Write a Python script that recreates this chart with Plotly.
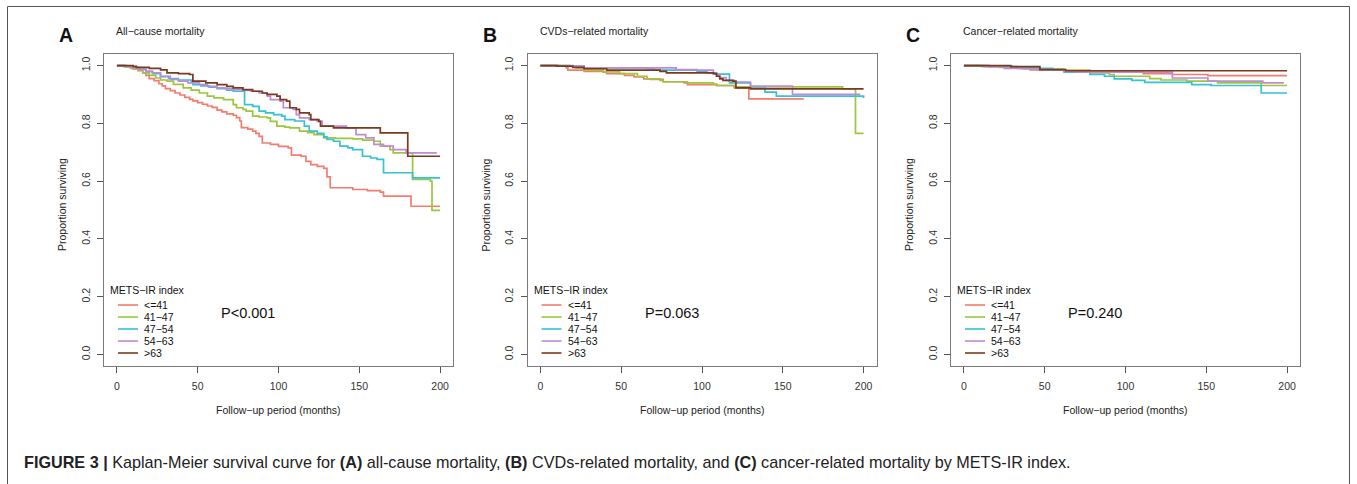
import plotly.graph_objects as go

W, H = 1357, 484

groups = ["<=41", "41-47", "47-54", "54-63", ">63"]
colors = ["#F47C6E", "#9DC63B", "#35C2D4", "#C08AD6", "#7A3A1C"]

# ---------------- Panel A: all-cause mortality ----------------
a_t_le41 = [0, 4, 8, 10, 13, 16, 18, 20, 23, 26, 28, 30, 33, 36, 39, 42, 45, 47, 50, 53, 56, 59, 62, 65, 68, 72, 74, 76, 77, 81, 84, 86, 88, 90, 95, 100, 106, 108, 114, 117, 120, 124, 128, 130, 132, 146, 155, 163, 165, 182, 200]
a_s_le41 = [1.0, 0.997, 0.993, 0.988, 0.982, 0.975, 0.966, 0.955, 0.948, 0.937, 0.93, 0.92, 0.913, 0.905, 0.898, 0.89, 0.883, 0.878, 0.872, 0.866, 0.86, 0.855, 0.846, 0.84, 0.833, 0.828, 0.82, 0.808, 0.785, 0.78, 0.773, 0.765, 0.755, 0.732, 0.727, 0.72, 0.715, 0.69, 0.686, 0.668, 0.657, 0.651, 0.644, 0.615, 0.577, 0.571, 0.567, 0.562, 0.548, 0.513, 0.513]
a_t_41_47 = [0, 5, 9, 13, 16, 20, 24, 27, 31, 35, 41, 46, 51, 56, 60, 66, 72, 74, 78, 80, 84, 88, 93, 95, 99, 104, 107, 113, 118, 122, 128, 135, 146, 152, 159, 163, 169, 171, 183, 194, 195, 200]
a_s_41_47 = [1.0, 0.995, 0.99, 0.986, 0.975, 0.966, 0.957, 0.95, 0.946, 0.935, 0.923, 0.915, 0.905, 0.894, 0.888, 0.882, 0.865, 0.854, 0.848, 0.842, 0.825, 0.822, 0.819, 0.807, 0.79, 0.787, 0.784, 0.773, 0.768, 0.761, 0.75, 0.748, 0.746, 0.742, 0.738, 0.721, 0.709, 0.698, 0.606, 0.6, 0.499, 0.499]
a_t_47_54 = [0, 5, 10, 14, 18, 22, 27, 32, 38, 46, 47, 52, 57, 62, 68, 72, 79, 84, 88, 92, 97, 102, 104, 110, 116, 119, 124, 128, 130, 134, 138, 143, 146, 152, 157, 161, 165, 183, 200]
a_s_47_54 = [1.0, 0.997, 0.993, 0.988, 0.98, 0.972, 0.962, 0.955, 0.95, 0.946, 0.934, 0.93, 0.925, 0.92, 0.915, 0.911, 0.865, 0.859, 0.842, 0.836, 0.83, 0.825, 0.813, 0.808, 0.79, 0.773, 0.765, 0.753, 0.744, 0.738, 0.721, 0.715, 0.709, 0.686, 0.68, 0.675, 0.629, 0.611, 0.611]
a_t_54_63 = [0, 6, 10, 14, 18, 22, 27, 33, 38, 44, 51, 56, 62, 67, 72, 78, 83, 88, 93, 95, 101, 103, 109, 111, 113, 119, 124, 127, 142, 148, 154, 159, 165, 171, 179, 198]
a_s_54_63 = [1.0, 0.997, 0.993, 0.986, 0.98, 0.975, 0.963, 0.952, 0.946, 0.94, 0.934, 0.928, 0.923, 0.92, 0.917, 0.914, 0.911, 0.905, 0.894, 0.882, 0.877, 0.854, 0.848, 0.83, 0.819, 0.813, 0.807, 0.79, 0.784, 0.761, 0.75, 0.727, 0.721, 0.709, 0.698, 0.698]
a_t_gt63 = [0, 10, 12, 20, 27, 31, 38, 45, 47, 55, 62, 68, 72, 78, 84, 90, 93, 99, 101, 105, 107, 111, 113, 119, 120, 125, 126, 134, 163, 180, 200]
a_s_gt63 = [1.0, 0.997, 0.994, 0.99, 0.985, 0.975, 0.972, 0.969, 0.946, 0.94, 0.934, 0.928, 0.923, 0.917, 0.911, 0.905, 0.9, 0.894, 0.882, 0.877, 0.854, 0.848, 0.836, 0.83, 0.813, 0.807, 0.79, 0.784, 0.767, 0.686, 0.686]

# ---------------- Panel B: CVDs-related mortality ----------------
b_t_le41 = [0, 11, 16, 17, 27, 39, 41, 52, 58, 64, 68, 76, 89, 91, 109, 120, 129, 163]
b_s_le41 = [1.0, 0.998, 0.992, 0.984, 0.98, 0.977, 0.972, 0.966, 0.961, 0.954, 0.952, 0.944, 0.94, 0.934, 0.931, 0.923, 0.885, 0.885]
b_t_41_47 = [0, 18, 22, 27, 39, 49, 60, 66, 74, 76, 91, 107, 109, 120, 187, 195, 200]
b_s_41_47 = [1.0, 0.998, 0.992, 0.984, 0.978, 0.972, 0.963, 0.954, 0.949, 0.944, 0.94, 0.936, 0.931, 0.926, 0.919, 0.765, 0.765]
b_t_47_54 = [0, 20, 27, 66, 70, 97, 103, 109, 117, 130, 139, 146, 200]
b_s_47_54 = [1.0, 0.998, 0.992, 0.989, 0.984, 0.98, 0.975, 0.97, 0.94, 0.926, 0.908, 0.894, 0.888]
b_t_54_63 = [0, 12, 27, 84, 97, 107, 109, 111, 115, 120, 130, 156, 198]
b_s_54_63 = [1.0, 0.998, 0.992, 0.986, 0.984, 0.972, 0.966, 0.958, 0.949, 0.943, 0.929, 0.9, 0.9]
b_t_gt63 = [0, 10, 20, 27, 41, 74, 78, 107, 109, 111, 113, 119, 121, 130, 200]
b_s_gt63 = [1.0, 0.998, 0.994, 0.989, 0.984, 0.98, 0.975, 0.972, 0.963, 0.954, 0.949, 0.946, 0.923, 0.919, 0.919]

# ---------------- Panel C: cancer-related mortality ----------------
c_t_le41 = [0, 16, 33, 41, 62, 99, 111, 129, 151, 200]
c_s_le41 = [1.0, 0.996, 0.99, 0.985, 0.98, 0.977, 0.972, 0.969, 0.965, 0.965]
c_t_41_47 = [0, 10, 22, 35, 45, 62, 78, 90, 93, 115, 122, 138, 157, 184, 200]
c_s_41_47 = [1.0, 0.997, 0.994, 0.99, 0.988, 0.984, 0.975, 0.969, 0.963, 0.955, 0.95, 0.946, 0.94, 0.931, 0.931]
c_t_47_54 = [0, 15, 30, 47, 55, 62, 78, 87, 93, 104, 112, 141, 153, 184, 200]
c_s_47_54 = [1.0, 0.997, 0.993, 0.99, 0.984, 0.977, 0.969, 0.963, 0.954, 0.949, 0.942, 0.934, 0.931, 0.905, 0.905]
c_t_54_63 = [0, 12, 25, 37, 45, 62, 70, 129, 151, 185, 198]
c_s_54_63 = [1.0, 0.996, 0.99, 0.988, 0.986, 0.98, 0.977, 0.957, 0.946, 0.94, 0.94]
c_t_gt63 = [0, 29, 47, 63, 200]
c_s_gt63 = [1.0, 0.996, 0.986, 0.982, 0.982]

panel_letters = ["A", "B", "C"]
panel_titles = ["All\u2212cause mortality", "CVDs\u2212related mortality", "Cancer\u2212related mortality"]
p_values = ["P<0.001", "P=0.063", "P=0.240"]
legend_title = "METS\u2212IR index"
legend_labels = ["<=41", "41\u221247", "47\u221254", "54\u221263", ">63"]
x_ticks = [0, 50, 100, 150, 200]
y_ticks = [0.0, 0.2, 0.4, 0.6, 0.8, 1.0]
y_ticktext = ["0.0", "0.2", "0.4", "0.6", "0.8", "1.0"]
x_title = "Follow\u2212up period (months)"
y_title = "Proportion surviving"
caption_bold = "FIGURE 3 |"
caption_rest = (" Kaplan-Meier survival curve for <b>(A)</b> all-cause mortality, <b>(B)</b> CVDs-related "
                "mortality, and <b>(C)</b> cancer-related mortality by METS-IR index.")

panels = [
    [(a_t_le41, a_s_le41), (a_t_41_47, a_s_41_47), (a_t_47_54, a_s_47_54), (a_t_54_63, a_s_54_63), (a_t_gt63, a_s_gt63)],
    [(b_t_le41, b_s_le41), (b_t_41_47, b_s_41_47), (b_t_47_54, b_s_47_54), (b_t_54_63, b_s_54_63), (b_t_gt63, b_s_gt63)],
    [(c_t_le41, c_s_le41), (c_t_41_47, c_s_41_47), (c_t_47_54, c_s_47_54), (c_t_54_63, c_s_54_63), (c_t_gt63, c_s_gt63)],
]

FONT = "Liberation Sans, Arial, sans-serif"


def px(x):
    return x / W


def py(y):
    return 1 - y / H


frame_left = [104, 527.5, 951]
frame_w = 349
frame_top, frame_bot = 54, 366

fig = go.Figure()
annotations = []
shapes = []


def note(x, y, text, size=10.5, color="#222", xanchor="left", angle=0):
    annotations.append(dict(x=px(x), y=py(y), xref="paper", yref="paper", text=text,
                            xanchor=xanchor, yanchor="middle", showarrow=False, textangle=angle,
                            font=dict(family=FONT, size=size, color=color)))


for i, series in enumerate(panels):
    ax = "" if i == 0 else str(i + 1)
    for g, (t, s) in enumerate(series):
        fig.add_trace(go.Scatter(
            x=t, y=s, mode="lines", line=dict(color=colors[g], width=1.7, shape="hv"),
            name=groups[g], showlegend=False, xaxis="x" + ax, yaxis="y" + ax, hoverinfo="skip"))
    L = frame_left[i]
    axis_common = dict(showline=True, mirror=True, linecolor="#7a7a7a", linewidth=1,
                       ticks="outside", ticklen=6, tickcolor="#555", tickwidth=1,
                       showgrid=False, zeroline=False,
                       tickfont=dict(family=FONT, size=10.5, color="#333"))
    fig.update_layout(**{
        "xaxis" + ax: dict(domain=[px(L), px(L + frame_w)], range=[-8, 208],
                           tickvals=x_ticks, anchor="y" + ax, ticklabelstandoff=4, **axis_common),
        "yaxis" + ax: dict(domain=[py(frame_bot), py(frame_top)], range=[-0.04, 1.04],
                           tickvals=y_ticks, ticktext=y_ticktext, tickangle=-90,
                           anchor="x" + ax, ticklabelstandoff=3, **axis_common),
    })
    note(L - 47, 35, "<b>%s</b>" % panel_letters[i], size=19.5, color="#111")
    note(L + 10, 31, panel_titles[i])
    note(L + frame_w / 2, 410, x_title, xanchor="center")
    note(L - 42, 205, y_title, xanchor="center", angle=-90)
    note(L + 4, 290, legend_title, color="#111")
    for g in range(5):
        yy = 305 + 12 * g
        shapes.append(dict(type="line", xref="paper", yref="paper",
                           x0=px(L + 14), x1=px(L + 34), y0=py(yy), y1=py(yy),
                           line=dict(color=colors[g], width=1.6)))
        note(L + 38, yy, legend_labels[g], color="#111")
    note(L + 115, 313, p_values[i], size=14.5, color="#111")

note(22, 462, "<b>" + caption_bold + "</b>" + caption_rest, size=16.2, color="#222")

shapes.append(dict(type="rect", xref="paper", yref="paper", x0=px(7.5), x1=px(1349.5),
                   y0=py(495), y1=py(6.5), line=dict(color="#555", width=1)))

fig.update_layout(width=W, height=H, margin=dict(l=0, r=0, t=0, b=0),
                  paper_bgcolor="white", plot_bgcolor="white",
                  annotations=annotations, shapes=shapes, showlegend=False)

fig.write_html("out.html", config={"displayModeBar": False},
               post_script="document.body.style.margin='0';document.body.style.overflow='hidden';")
